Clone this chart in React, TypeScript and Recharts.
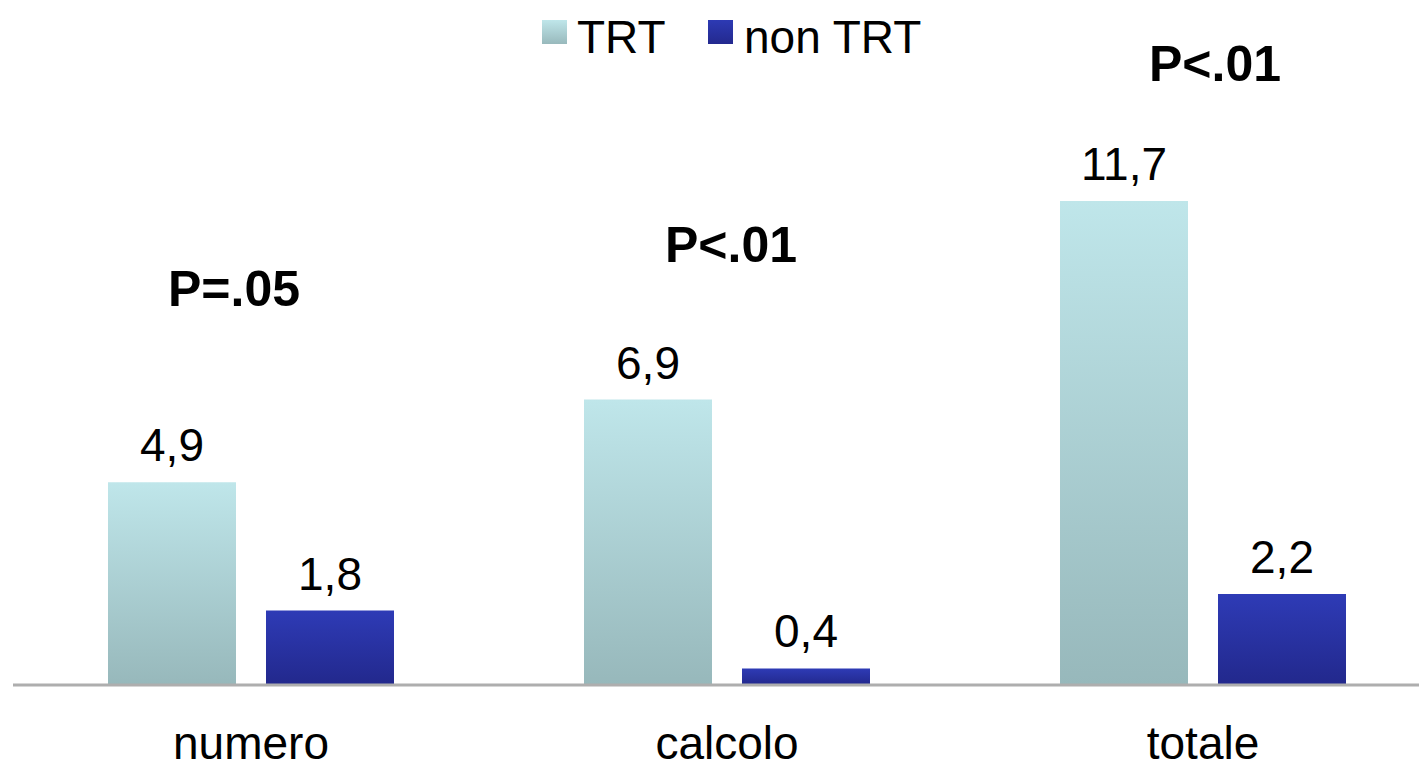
import { BarChart, Bar, XAxis, YAxis, LabelList, Legend, ReferenceDot } from "recharts";

const categories = ["numero", "calcolo", "totale"];
const trt = [4.9, 6.9, 11.7];
const nonTrt = [1.8, 0.4, 2.2];
const pLabels = ["P=.05", "P<.01", "P<.01"];
const pHeights = [9.16, 10.22, 14.6];
const pShift = [-17, 4, 12];

const data = categories.map((name, i) => ({
  name,
  TRT: trt[i],
  nonTRT: nonTrt[i],
}));

const FONT = "'Liberation Sans', Arial, sans-serif";

const fmt = (v: any) => String(v).replace(".", ",");

function LegendContent() {
  return (
    <svg width={1441} height={72} style={{ display: "block" }}>
      <defs>
        <linearGradient id="lgTrt" x1="0" y1="0" x2="0" y2="1">
          <stop offset="0%" stopColor="#bfe6ea" />
          <stop offset="100%" stopColor="#98b9bc" />
        </linearGradient>
        <linearGradient id="lgNon" x1="0" y1="0" x2="0" y2="1">
          <stop offset="0%" stopColor="#2d3ab4" />
          <stop offset="100%" stopColor="#23298e" />
        </linearGradient>
      </defs>
      <rect x={542} y={20} width={25} height={24} fill="url(#lgTrt)" />
      <text x={577} y={53} fontSize={46} fontFamily={FONT} fill="#000">
        TRT
      </text>
      <rect x={708} y={20} width={25} height={24} fill="url(#lgNon)" />
      <text x={744} y={53} fontSize={46} fontFamily={FONT} fill="#000">
        non TRT
      </text>
    </svg>
  );
}

export default function App() {
  return (
    <div
      style={{
        position: "absolute",
        left: 0,
        top: 0,
        width: 1419,
        height: 765,
        overflow: "hidden",
        background: "#fff",
      }}
    >
      <BarChart
        width={1441}
        height={765}
        data={data}
        margin={{ top: 23, right: 0, left: 13, bottom: 0 }}
        barSize={128}
        barGap={30}
      >
        <defs>
          <linearGradient id="gTrt" x1="0" y1="0" x2="0" y2="1">
            <stop offset="0%" stopColor="#bfe6ea" />
            <stop offset="100%" stopColor="#97b8bb" />
          </linearGradient>
          <linearGradient id="gNon" x1="0" y1="0" x2="0" y2="1">
            <stop offset="0%" stopColor="#2e3bb6" />
            <stop offset="100%" stopColor="#22288c" />
          </linearGradient>
        </defs>
        <XAxis
          dataKey="name"
          height={80}
          tickLine={false}
          tickSize={6}
          tickMargin={35}
          axisLine={{ stroke: "#aeaeae", strokeWidth: 3 }}
          tick={{ fill: "#000", fontSize: 46, fontFamily: FONT }}
          interval={0}
        />
        <YAxis hide domain={[0, 16]} />
        <Legend
          layout="horizontal"
          verticalAlign="middle"
          align="center"
          wrapperStyle={{ top: 0, left: 0, width: 1441, height: 72 }}
          content={() => <LegendContent />}
        />
        <Bar dataKey="TRT" fill="url(#gTrt)" isAnimationActive={false}>
          <LabelList
            dataKey="TRT"
            position="top"
            offset={21}
            formatter={fmt}
            style={{ fill: "#000", fontSize: 46, fontFamily: FONT }}
          />
        </Bar>
        <Bar dataKey="nonTRT" fill="url(#gNon)" isAnimationActive={false}>
          <LabelList
            dataKey="nonTRT"
            position="top"
            offset={21}
            formatter={fmt}
            style={{ fill: "#000", fontSize: 46, fontFamily: FONT }}
          />
        </Bar>
        {categories.map((c, i) => (
          <ReferenceDot
            key={c}
            x={c}
            y={pHeights[i]}
            r={0}
            ifOverflow="visible"
            shape={(p: any) => (
              <text
                x={p.cx + pShift[i]}
                y={p.cy}
                textAnchor="middle"
                fontSize={50}
                fontWeight="bold"
                fontFamily={FONT}
                fill="#000"
              >
                {pLabels[i]}
              </text>
            )}
          />
        ))}
      </BarChart>
    </div>
  );
}
